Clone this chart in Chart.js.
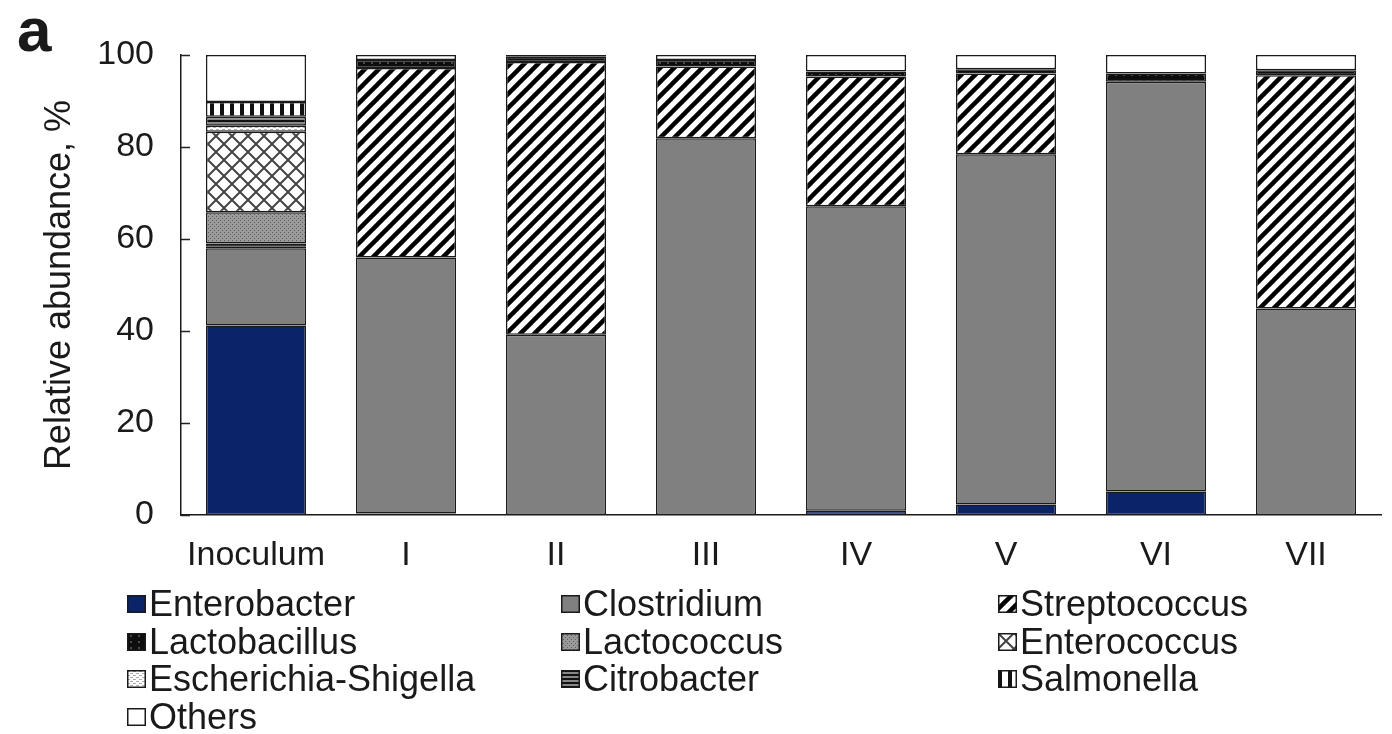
<!DOCTYPE html>
<html>
<head>
<meta charset="utf-8">
<script src="https://cdn.jsdelivr.net/npm/chart.js@4.4.0/dist/chart.umd.min.js"></script>
<style>
  html, body { margin: 0; padding: 0; background: #fff; }
  #wrap { position: relative; width: 1392px; height: 734px; font-family: "Liberation Sans", Arial, sans-serif; color: #1a1a1a; }
  #panel { position: absolute; left: 17px; top: -6px; font-size: 62px; font-weight: bold; }
  .leg { position: absolute; font-size: 36px; line-height: 36px; white-space: nowrap; display: flex; align-items: center; }
  .leg canvas { margin-right: 3px; }
</style>
</head>
<body>
<div id="wrap">
  <canvas id="myChart" width="1392" height="734"></canvas>
  <div id="panel">a</div>
  <div id="legend"></div>
</div>
<script>
// ---- data ----
const categories = ['Inoculum', 'I', 'II', 'III', 'IV', 'V', 'VI', 'VII'];
const enterobacter  = [41.2, 0.3, 0,    0,    0.9,  2.3,  5.1,  0];
const clostridium   = [16.8, 55.7, 39.2, 81.9, 66.2, 76.1, 89.1, 44.9];
const streptococcus = [0.3,  41.2, 59.3, 15.6, 28.2, 17.6, 0,    50.7];
const lactobacillus = [0.7,  1.7,  1.1,  1.4,  1.1,  0.9,  1.8,  1.1];
const lactococcus   = [6.8,  0, 0, 0, 0, 0, 0, 0];
const enterococcus  = [17.5, 0, 0, 0, 0, 0, 0, 0];
const escherichia   = [1.3,  0, 0, 0, 0, 0, 0, 0];
const citrobacter   = [2.0,  0, 0, 0, 0, 0, 0, 0];
const salmonella    = [3.2,  0, 0, 0, 0, 0, 0, 0];
const others        = [10.2, 1.1, 0.4, 1.1, 3.6, 3.1, 4.0, 3.3];
const yTicks = [0, 20, 40, 60, 80, 100];

// ---- fill patterns ----
function tile(w, h, draw) {
  const c = document.createElement('canvas');
  c.width = w; c.height = h;
  const g = c.getContext('2d');
  draw(g, w, h);
  return g.createPattern(c, 'repeat');
}
const pat = {
  stripes: tile(14, 14, (g, w, h) => {
    g.fillStyle = '#fff'; g.fillRect(0, 0, w, h);
    g.strokeStyle = '#000'; g.lineWidth = 4.5;
    [[0, h, w, 0], [-w / 2, h / 2, w / 2, -h / 2], [w / 2, h * 1.5, w * 1.5, h / 2]].forEach(l => {
      g.beginPath(); g.moveTo(l[0], l[1]); g.lineTo(l[2], l[3]); g.stroke();
    });
  }),
  cross: tile(16, 16, (g, w, h) => {
    g.fillStyle = '#fff'; g.fillRect(0, 0, w, h);
    g.strokeStyle = '#444'; g.lineWidth = 2;
    g.beginPath(); g.moveTo(0, 0); g.lineTo(w, h); g.moveTo(w, 0); g.lineTo(0, h); g.stroke();
  }),
  dots: tile(4, 4, (g) => {
    g.fillStyle = '#9a9a9a'; g.fillRect(0, 0, 4, 4);
    g.fillStyle = '#5e5e5e'; g.fillRect(0, 0, 1, 1); g.fillRect(2, 2, 1, 1);
  }),
  light: tile(6, 4, (g) => {
    g.fillStyle = '#fff'; g.fillRect(0, 0, 6, 4);
    g.fillStyle = '#aaa'; g.fillRect(0, 1, 3, 1); g.fillRect(3, 3, 3, 1);
  }),
  hlines: tile(2, 4, (g) => {
    g.fillStyle = '#888'; g.fillRect(0, 0, 2, 4);
    g.fillStyle = '#111'; g.fillRect(0, 0, 2, 2);
  }),
  vlines: tile(10, 2, (g) => {
    g.fillStyle = '#fff'; g.fillRect(0, 0, 10, 2);
    g.fillStyle = '#111'; g.fillRect(0, 0, 4, 2);
  }),
  dark: tile(8, 6, (g) => {
    g.fillStyle = '#0e0e0e'; g.fillRect(0, 0, 8, 6);
    g.fillStyle = '#4a4a4a'; g.fillRect(3, 2, 2, 2);
  })
};

const series = [
  { label: 'Enterobacter',          data: enterobacter,  fill: '#0b2368' },
  { label: 'Clostridium',           data: clostridium,   fill: '#808080' },
  { label: 'Streptococcus',         data: streptococcus, fill: pat.stripes },
  { label: 'Lactobacillus',         data: lactobacillus, fill: pat.dark },
  { label: 'Lactococcus',           data: lactococcus,   fill: pat.dots },
  { label: 'Enterococcus',          data: enterococcus,  fill: pat.cross },
  { label: 'Escherichia-Shigella',  data: escherichia,   fill: pat.light },
  { label: 'Citrobacter',           data: citrobacter,   fill: pat.hlines },
  { label: 'Salmonella',            data: salmonella,    fill: pat.vlines },
  { label: 'Others',                data: others,        fill: '#ffffff' }
];

// inward tick marks on the y axis
const innerTicks = {
  id: 'innerTicks',
  afterDraw(chart) {
    const y = chart.scales.y, g = chart.ctx, x0 = chart.chartArea.left;
    g.save();
    g.strokeStyle = '#222'; g.lineWidth = 1.5;
    y.ticks.forEach(t => {
      const py = Math.round(y.getPixelForValue(t.value)) + 0.5;
      g.beginPath(); g.moveTo(x0, py); g.lineTo(x0 + 9, py); g.stroke();
    });
    g.restore();
  }
};

const ctx = document.getElementById('myChart');
new Chart(ctx, {
  type: 'bar',
  data: {
    labels: categories,
    datasets: series.map(s => ({
      label: s.label,
      data: s.data.map(v => v === 0 ? null : v),
      backgroundColor: s.fill,
      borderColor: '#1a1a1a',
      borderWidth: 1.5,
      borderSkipped: false,
      categoryPercentage: 1,
      barPercentage: 0.667
    }))
  },
  options: {
    responsive: false,
    animation: false,
    layout: { padding: { left: 0, right: 11, top: 55, bottom: 159 } },
    plugins: { legend: { display: false }, tooltip: { enabled: false } },
    scales: {
      x: {
        stacked: true,
        grid: { display: false, drawTicks: false },
        border: { color: '#1a1a1a', width: 1.5 },
        ticks: { color: '#1a1a1a', font: { family: 'Liberation Sans', size: 34 }, padding: 20, maxRotation: 0 },
        afterFit(s) { s.height = 60; }
      },
      y: {
        stacked: true,
        min: 0, max: 100,
        afterBuildTicks(s) { s.ticks = yTicks.map(v => ({ value: v })); },
        grid: { display: false, drawTicks: false },
        border: { color: '#1a1a1a', width: 1.5 },
        ticks: { color: '#1a1a1a', font: { family: 'Liberation Sans', size: 34 }, padding: 27 },
        title: {
          display: true, text: 'Relative abundance, %', color: '#1a1a1a',
          font: { family: 'Liberation Sans', size: 36 }, padding: { top: 38, bottom: 0 }
        },
        afterFit(s) { s.width = 181; }
      }
    }
  },
  plugins: [innerTicks]
});

// legend in three columns, like the figure
const legCols = [127, 561, 998];
const legend = document.getElementById('legend');
series.forEach((s, i) => {
  const item = document.createElement('div');
  item.className = 'leg';
  item.style.left = legCols[i % 3] + 'px';
  item.style.top = (586 + Math.floor(i / 3) * 37.5) + 'px';
  const sw = document.createElement('canvas');
  sw.width = 19; sw.height = 18;
  const g = sw.getContext('2d');
  g.fillStyle = s.fill; g.fillRect(0, 0, 19, 18);
  g.strokeStyle = '#1a1a1a'; g.lineWidth = 1.5; g.strokeRect(0.75, 0.75, 17.5, 16.5);
  item.appendChild(sw);
  item.appendChild(document.createTextNode(s.label));
  legend.appendChild(item);
});
</script>
</body>
</html>
